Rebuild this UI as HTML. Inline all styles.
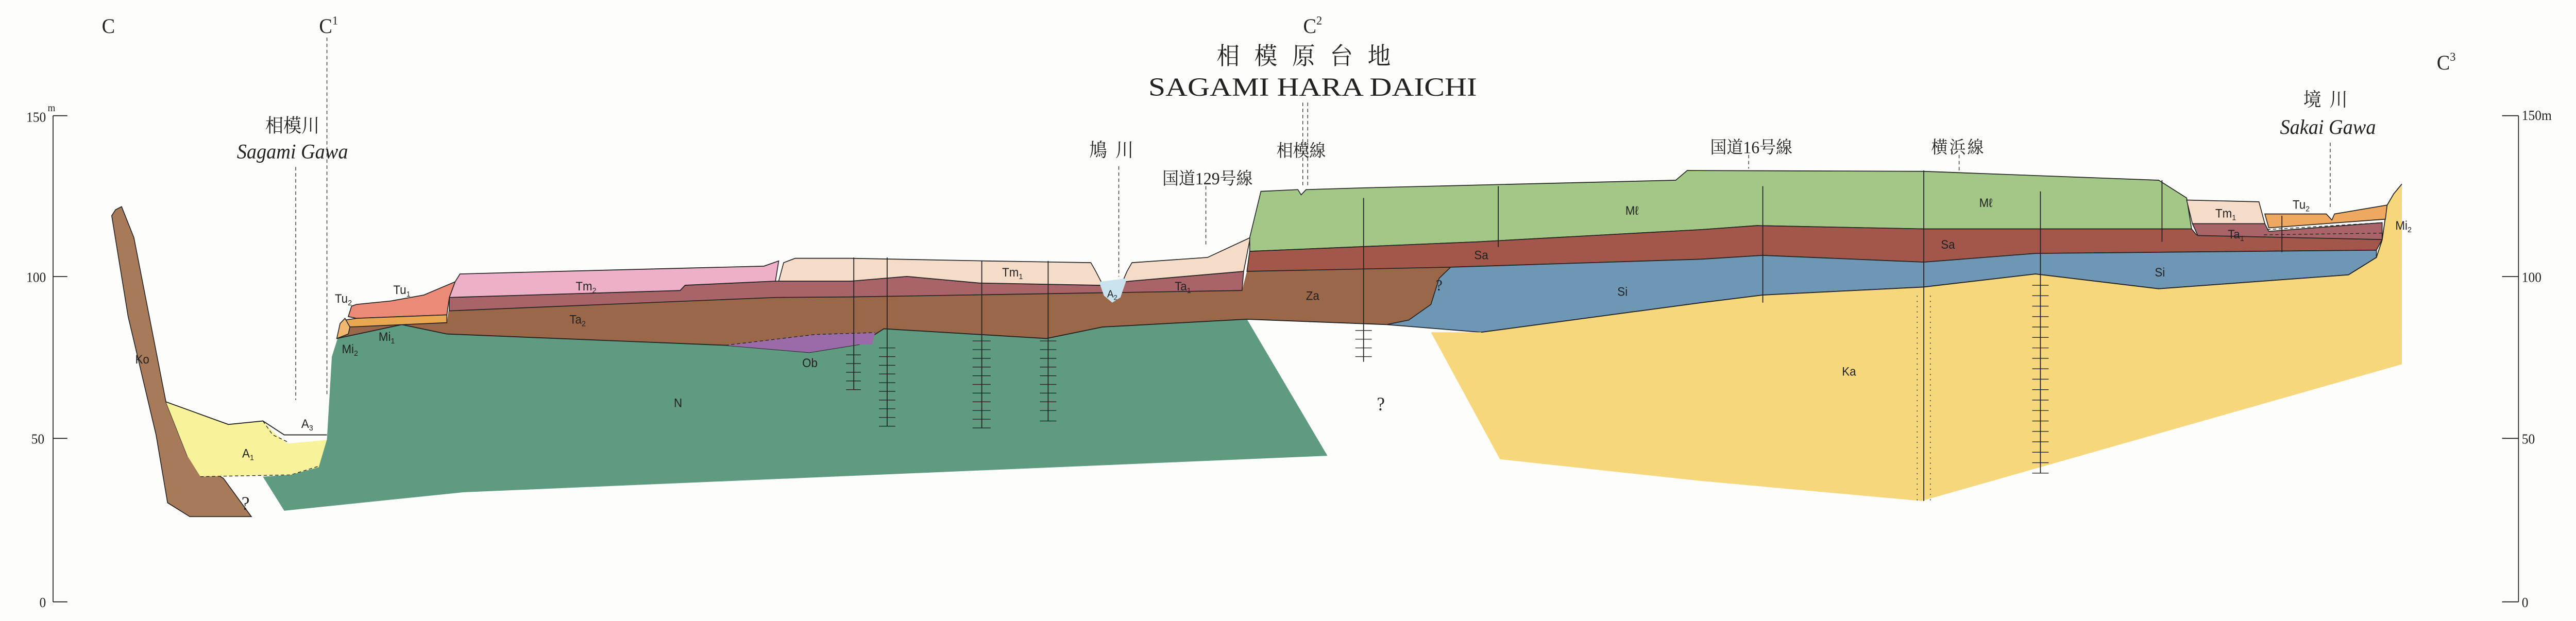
<!DOCTYPE html>
<html><head><meta charset="utf-8"><style>
html,body{margin:0;padding:0;background:#fdfdfb;width:100%;height:100%;overflow:hidden;}
svg{display:block;position:absolute;left:0;top:0;width:100vw;height:100vh}
text{font-family:"Liberation Sans","Noto Sans CJK JP",sans-serif;fill:#222}
.s{font-family:"Liberation Serif","Noto Serif CJK SC",serif}
.l{stroke:#222;stroke-width:0.55;fill:none}
.d{stroke:#222;stroke-width:0.4;fill:none;stroke-dasharray:2 1.5}
.p{stroke:#222;stroke-width:0.5}
</style></head><body>
<svg viewBox="0 0 1568 357" preserveAspectRatio="none" xmlns="http://www.w3.org/2000/svg">
<rect width="1568" height="357" fill="#fdfdfb"/>
<polygon class="p" fill="#a77b5a" points="70.3,120.6 74,118.8 81.5,136.6 101,231 114,262 136,275 153,297 115.5,297 102,289 95,250 78,182 68,124"/>
<polygon fill="#f8f39a" points="101,231 139,244 160,242 166,248 175,255 199,253 194,268.6 177,273 122,274 114,262"/>
<polyline class="l" points="101,231 139,244 160,242 173,250 199,250"/>
<polyline class="d" points="160,242 166,250 175,254"/>
<polyline class="d" points="122,274 177,273 194,268"/>
<polygon fill="#5f9b80" points="199,252.6 202,205 205.5,194.6 244.6,186.6 272,192 441.6,198.5 492.6,202.6 523,198 538,189 637,194.6 671,188 759,183.5 808,262 282,283 173,293.6 160,274 177,273 194,268.6"/>
<polygon fill="#9a6749" points="205,194.6 210,188 217,187.8 272,185.5 273,178.7 472,171 518,170.7 756,167 759,156 883,153.6 871,175 857.5,184 844,186.6 759,183.5 671,188 637,194.6 538,189 523,198 492.6,202.6 441.6,198.5 272,192 244.6,186.6"/>
<polyline class="l" points="205,194.6 244.6,186.6 272,192 441.6,198.5 492.6,202.6 523,198 538,189 637,194.6 671,188 759,183.5 844,186.6"/>
<polygon fill="#9b6aa8" points="441.6,198.5 496,192.3 532.6,191.2 531,198 523,198 492.6,202.6"/>
<polyline class="d" points="441.6,198.5 496,192.3 532.6,191.2"/>
<polygon class="p" fill="#a9646a" points="273.5,171 414,167 417,164 472,161.6 518,161.6 552,158.9 596,162.7 669,164 688,161.6 757,156 756,167 518,170.7 472,171 273.5,178.7"/>
<polygon class="p" fill="#eeb0c8" points="273.5,171 277,162 280,157.5 340,156 465,153 474,150 472,161.6 417,164 414,167"/>
<polygon class="p" fill="#f5dcc8" points="474,161.6 477,151 484,148.5 518,148.5 600,150 664,151 667,156 673,167 681,167 686,156 689,151 735,148 761,136.6 757,156 688,161.6 669,164 596,162.7 552,158.9 518,161.6"/>
<polygon fill="#c9e4ee" points="669,162 672,170 677,174 682,171 686,160"/>
<polygon class="p" fill="#ec8a78" points="212,182 214,176 217,175 238,173 258,169.6 272,164 277,162 273.5,171 272,181 217,183"/>
<polygon class="p" fill="#e9a752" points="210,188 217,187.8 272,185.5 272,181 217,183 210,184"/>
<polygon class="p" fill="#f0b870" points="205,194.6 207,186 210,183 213,188 212,192"/>
<polygon class="p" fill="#a3c786" points="760.7,144.5 760.7,136.6 767.5,110 790,109 792,112 795,109 830,108 1020,103.6 1027,98 1171,98.5 1314,103.6 1331,113.8 1334,131.6 1171,131.6 1069.5,129.7 1035.5,132 900,139 760.7,144.5"/>
<polygon class="p" fill="#a3574a" points="760.7,144.5 900,139 1035.5,132 1069.5,129.7 1171,131.6 1334,131.6 1337,135 1450,137.7 1446.5,143.8 1239,145.7 1171,150.7 1073,146.8 1035.5,149 883,153.6 759,156"/>
<polygon class="p" fill="#6d97b4" points="883,153.6 1035.5,149 1073,146.8 1171,150.7 1239,145.7 1446.5,143.8 1446.5,148 1429.5,158 1314,166 1239,157.5 1171,165 1073,169.6 1035.5,174 901.6,191 844,186.6 857.5,184 871,175 876,160"/>
<polygon fill="#f6d77c" points="871,191 901.6,191 1035.5,174 1073,169.6 1171,165 1239,157.5 1314,166 1429.5,158 1446.5,148 1450,138 1453,118 1457,111.5 1462,105.8 1462,209.4 1169.7,288 1035.5,276.5 913,264"/>
<polyline class="l" points="901.6,191 1035.5,174 1073,169.6 1171,165 1239,157.5 1314,166 1429.5,158 1446.5,148 1450,138 1453,118 1457,111.5 1462,105.8"/>
<polygon class="p" fill="#f5dcc8" points="1331,115 1375,116 1378.6,128.6 1334.5,128.6"/>
<polygon class="p" fill="#a9646a" points="1334.5,128.6 1378.6,128.6 1381,133 1450,128 1450,137.7 1337.8,135.4"/>
<polygon class="p" fill="#efa860" points="1378.6,123 1416,123 1419.4,126.5 1421,123 1453,117.9 1452,126 1381,131"/>
<polyline class="d" points="1380,132 1450,128"/>
<polyline class="d" points="1378,135 1450,134"/>
<g class="l">
<line x1="519.7" y1="148" x2="519.7" y2="224"/><line x1="540" y1="148" x2="540" y2="245"/>
<line x1="597.6" y1="150" x2="597.6" y2="246"/><line x1="638" y1="150" x2="638" y2="242"/>
<line x1="830" y1="113.8" x2="830" y2="208"/><line x1="912" y1="107" x2="912" y2="142"/>
<line x1="1073" y1="107" x2="1073" y2="174"/><line x1="1171" y1="98" x2="1171" y2="288"/>
<line x1="1242" y1="110" x2="1242" y2="272"/><line x1="1316" y1="103.6" x2="1316" y2="139"/>
<line x1="1389" y1="124" x2="1389" y2="145"/>
</g>
<g stroke="#222" stroke-width="0.4">
<path d="M515 204h9M515 209h9M515 214h9M515 219h9M515 224h9"/>
<path d="M535 200h10M535 205h10M535 210h10M535 215h10M535 220h10M535 225h10M535 230h10M535 235h10M535 240h10M535 245h10"/>
<path d="M592 196h11M592 201h11M592 206h11M592 211h11M592 216h11M592 221h11M592 226h11M592 231h11M592 236h11M592 241h11M592 246h11"/>
<path d="M633 196h10M633 201h10M633 206h10M633 211h10M633 216h10M633 221h10M633 226h10M633 231h10M633 236h10M633 242h10"/>
<path d="M825 190h10M825 195h10M825 200h10M825 205h10"/>
<path d="M1237 164h10M1237 170h10M1237 176h10M1237 182h10M1237 188h10M1237 194h10M1237 200h10M1237 206h10M1237 212h10M1237 218h10M1237 224h10M1237 230h10M1237 236h10M1237 242h10M1237 248h10M1237 254h10M1237 260h10M1237 266h10M1237 272h10"/>
</g>
<path d="M1167 170v118M1175 170v118" stroke="#333" stroke-width="0.5" stroke-dasharray="0.6 2.4"/>
<g class="d">
<line x1="199" y1="21.6" x2="199" y2="227"/><line x1="180" y1="96" x2="180" y2="230"/>
<line x1="793" y1="59" x2="793" y2="107"/><line x1="796" y1="59" x2="796" y2="107"/>
<line x1="681" y1="95.6" x2="681" y2="159"/><line x1="734" y1="107" x2="734" y2="141"/>
<line x1="1418.4" y1="82" x2="1418.4" y2="120.6"/>
<line x1="1064.4" y1="89" x2="1064.4" y2="97"/><line x1="1192.5" y1="89" x2="1192.5" y2="98"/>
</g>
<g class="l">
<line x1="32.3" y1="66.5" x2="32.3" y2="346"/>
<line x1="32.3" y1="66.5" x2="41" y2="66.5"/><line x1="32.3" y1="159" x2="41" y2="159"/>
<line x1="32.3" y1="252" x2="41" y2="252"/><line x1="32.3" y1="346" x2="41" y2="346"/>
<line x1="1533" y1="66.5" x2="1533" y2="346"/>
<line x1="1523" y1="66.5" x2="1533" y2="66.5"/><line x1="1523" y1="159" x2="1533" y2="159"/>
<line x1="1523" y1="252" x2="1533" y2="252"/><line x1="1523" y1="346" x2="1533" y2="346"/>
</g>
<g font-size="8">
<text x="16" y="70" class="s">150</text><text x="29" y="64" class="s" font-size="6">m</text>
<text x="16" y="162" class="s">100</text><text x="19" y="255" class="s">50</text><text x="24" y="349" class="s">0</text>
<text x="1535" y="69" class="s">150m</text><text x="1535" y="162" class="s">100</text>
<text x="1535" y="255" class="s">50</text><text x="1535" y="349" class="s">0</text>
</g>
<text x="66" y="19" class="s" font-size="12" text-anchor="middle">C</text>
<text x="200" y="19" class="s" font-size="12" text-anchor="middle">C<tspan font-size="7" dy="-5">1</tspan></text>
<text x="799" y="19" class="s" font-size="12" text-anchor="middle">C<tspan font-size="7" dy="-5">2</tspan></text>
<text x="1489" y="40" class="s" font-size="12" text-anchor="middle">C<tspan font-size="7" dy="-5">3</tspan></text>
<text x="798" y="37" class="s" font-size="14" text-anchor="middle" letter-spacing="9">相模原台地</text>
<text x="799" y="55" class="s" font-size="15" text-anchor="middle" textLength="200" lengthAdjust="spacingAndGlyphs">SAGAMI HARA DAICHI</text>
<text x="178" y="76" font-size="11" text-anchor="middle" class="s">相模川</text>
<text x="178" y="91" font-size="12" text-anchor="middle" class="s" font-style="italic">Sagami Gawa</text>
<text x="679" y="90" font-size="11" text-anchor="middle" class="s" letter-spacing="5">鳩川</text>
<text x="735" y="106" font-size="10" text-anchor="middle" class="s">国道129号線</text>
<text x="792" y="90" font-size="10" text-anchor="middle" class="s">相模線</text>
<text x="1066" y="88" font-size="10" text-anchor="middle" class="s">国道16号線</text>
<text x="1192" y="88" font-size="10" text-anchor="middle" class="s" letter-spacing="1">横浜線</text>
<text x="1418" y="61" font-size="11" text-anchor="middle" class="s" letter-spacing="5">境川</text>
<text x="1417" y="77" font-size="12" text-anchor="middle" class="s" font-style="italic">Sakai Gawa</text>
<g font-size="7" text-anchor="middle">
<text x="86.6" y="209">Ko</text><text x="151" y="263">A<tspan font-size="4.5" dy="1.5">1</tspan></text>
<text x="187" y="246">A<tspan font-size="4.5" dy="1.5">3</tspan></text>
<text x="412.7" y="234">N</text><text x="493" y="211">Ob</text>
<text x="356.7" y="167">Tm<tspan font-size="4.5" dy="1.5">2</tspan></text>
<text x="351.6" y="186">Ta<tspan font-size="4.5" dy="1.5">2</tspan></text>
<text x="244.6" y="169">Tu<tspan font-size="4.5" dy="1.5">1</tspan></text>
<text x="209" y="174">Tu<tspan font-size="4.5" dy="1.5">2</tspan></text>
<text x="235.4" y="196">Mi<tspan font-size="4.5" dy="1.5">1</tspan></text>
<text x="213" y="203">Mi<tspan font-size="4.5" dy="1.5">2</tspan></text>
<text x="616.3" y="159">Tm<tspan font-size="4.5" dy="1.5">1</tspan></text>
<text x="720" y="167">Ta<tspan font-size="4.5" dy="1.5">1</tspan></text>
<text x="677" y="171" font-size="6">A<tspan font-size="4" dy="1.5">2</tspan></text>
<text x="799" y="172.5">Za</text><text x="901.6" y="149">Sa</text>
<text x="987.6" y="170">Si</text><text x="993.4" y="123.5">Mℓ</text>
<text x="1208.8" y="119">Mℓ</text><text x="1185.7" y="143">Sa</text>
<text x="1314.7" y="159">Si</text><text x="1125.5" y="216">Ka</text>
<text x="1354.8" y="125">Tm<tspan font-size="4.5" dy="1.5">1</tspan></text>
<text x="1361" y="137">Ta<tspan font-size="4.5" dy="1.5">1</tspan></text>
<text x="1400.7" y="120">Tu<tspan font-size="4.5" dy="1.5">2</tspan></text>
<text x="1463" y="132">Mi<tspan font-size="4.5" dy="1.5">2</tspan></text>
</g>
<g font-size="11" text-anchor="middle">
<text x="149.5" y="293" class="s">?</text><text x="840.5" y="236" class="s">?</text><text x="876" y="167" class="s" font-size="9">?</text>
</g>
</svg>
</body></html>
